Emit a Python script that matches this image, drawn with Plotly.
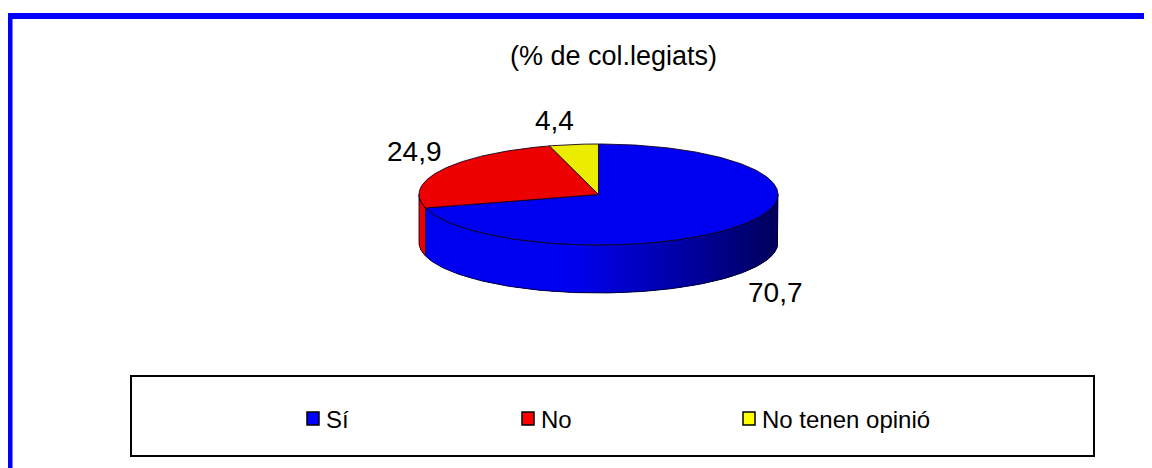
import math
import plotly.graph_objects as go

# ---- data ----
categories = ["Sí", "No", "No tenen opinió"]
values = [70.7, 24.9, 4.4]
value_labels = ["70,7", "24,9", "4,4"]
title_text = "(% de col.legiats)"

# ---- styles / layout constants ----
W, H = 1152, 468
PAGE_OFF = 8  # default body margin of the page
top_colors = [(0, 0, 240), (236, 0, 0), (236, 236, 0)]
legend_colors = ["#0000FF", "#FF0000", "#FFFF00"]
CX, CY, RX, RY, DEPTH = 598.5, 194.5, 179.5, 50.5, 48
START = 90.0
label_offsets = [(34, 19), (-28, -18), (-19.5, -23.5)]
FONT = "Arial, 'Liberation Sans', sans-serif"


def pt(theta, dy=0.0):
    r = math.radians(theta)
    return CX + RX * math.cos(r), CY - RY * math.sin(r) + dy


def arc(a, b, n=None, dy=0.0):
    if n is None:
        n = max(2, int(abs(b - a) / 1.0) + 1)
    return [pt(a + (b - a) * i / (n - 1), dy) for i in range(n)]


def rgb(c, f=1.0):
    return "rgb(%d,%d,%d)" % tuple(int(round(v * f)) for v in c)


def shade(x):
    t = (x - (CX - RX)) / (2 * RX)
    if t < 0.42:
        return 1.0
    return 1.0 - 0.62 * ((t - 0.42) / 0.58) ** 1.1


fig = go.Figure()

# slice angle ranges (clockwise from 12 o'clock)
total = sum(values)
ranges = []
a = START
for v in values:
    b = a - 360.0 * v / total
    ranges.append((b, a))
    a = b

# ---- side walls (front half only) with shading strips ----
for (lo, hi), col in zip(ranges, top_colors):
    for k in (-1, 0, 1):
        s0 = max(lo, -180 + 360 * k)
        s1 = min(hi, 0 + 360 * k)
        if s0 >= s1:
            continue
        top = arc(s0, s1)
        bot = arc(s1, s0, dy=DEPTH)
        poly = top + bot + [top[0]]
        fig.add_trace(go.Scatter(
            x=[p[0] for p in poly], y=[p[1] for p in poly],
            mode="lines", fill="toself", fillcolor=rgb(col, shade(top[0][0])),
            line=dict(width=0), hoverinfo="skip", showlegend=False))
        nstrips = max(1, int((s1 - s0) / 1.5))
        step = (s1 - s0) / nstrips
        for i in range(nstrips):
            t0 = s0 + step * i
            t1 = min(s1, t0 + step * 1.8)
            top_s = arc(t0, t1, 3)
            bot_s = arc(t1, t0, 3, DEPTH)
            ps = top_s + bot_s + [top_s[0]]
            xm = (top_s[0][0] + top_s[-1][0]) / 2
            c = rgb(col, shade(xm))
            fig.add_trace(go.Scatter(
                x=[p[0] for p in ps], y=[p[1] for p in ps],
                mode="lines", fill="toself", fillcolor=c,
                line=dict(width=0), hoverinfo="skip", showlegend=False))
        fig.add_trace(go.Scatter(
            x=[p[0] for p in poly], y=[p[1] for p in poly],
            mode="lines", line=dict(color="rgba(0,0,40,0.85)", width=1),
            hoverinfo="skip", showlegend=False))

# ---- top faces ----
for (lo, hi), col, name in zip(ranges, top_colors, categories):
    pts = [(CX, CY)] + arc(hi, lo) + [(CX, CY)]
    fig.add_trace(go.Scatter(
        x=[p[0] for p in pts], y=[p[1] for p in pts],
        mode="lines", fill="toself", fillcolor=rgb(col),
        line=dict(color="rgba(20,0,30,0.9)", width=1),
        hoverinfo="skip", showlegend=False, name=name))

# ---- value labels ----
annotations = []
for (lo, hi), lab, (ox, oy) in zip(ranges, value_labels, label_offsets):
    mid = (lo + hi) / 2
    dy = DEPTH if math.sin(math.radians(mid)) < 0 else 0
    x, y = pt(mid, dy)
    annotations.append(dict(
        x=x + ox, y=y + oy, xref="x", yref="y", text=lab, showarrow=False,
        xanchor="center", yanchor="middle",
        font=dict(family=FONT, size=28, color="black")))

# title
annotations.append(dict(
    x=613.5, y=56, xref="x", yref="y", text=title_text, showarrow=False,
    xanchor="center", yanchor="middle",
    font=dict(family=FONT, size=27, color="black")))

# ---- manual legend ----
shapes = []
legend_marker_x = [307, 522, 743]
for cat, lc, mx in zip(categories, legend_colors, legend_marker_x):
    shapes.append(dict(type="rect", xref="x", yref="y",
                       x0=mx, x1=mx + 12, y0=412, y1=425,
                       fillcolor=lc, line=dict(color="black", width=1.5)))
    annotations.append(dict(
        x=mx + 17, y=419, xref="x", yref="y", text=cat, showarrow=False,
        xanchor="left", yanchor="middle",
        font=dict(family=FONT, size=24, color="black")))

# legend box
shapes.append(dict(type="rect", xref="x", yref="y", x0=131, x1=1094,
                   y0=376, y1=456, line=dict(color="black", width=2),
                   fillcolor="rgba(0,0,0,0)"))
# outer blue frame
shapes.append(dict(type="rect", xref="x", yref="y", x0=9.5, x1=1170,
                   y0=16, y1=490, line=dict(color="#0000FF", width=6),
                   fillcolor="rgba(0,0,0,0)"))

fig.update_layout(
    width=W - PAGE_OFF, height=H - PAGE_OFF,
    margin=dict(l=0, r=0, t=0, b=0),
    paper_bgcolor="white", plot_bgcolor="white",
    xaxis=dict(range=[PAGE_OFF, W], visible=False, fixedrange=True),
    yaxis=dict(range=[H, PAGE_OFF], visible=False, fixedrange=True),
    showlegend=False,
    shapes=shapes, annotations=annotations,
)

fig.write_html("out.html")
